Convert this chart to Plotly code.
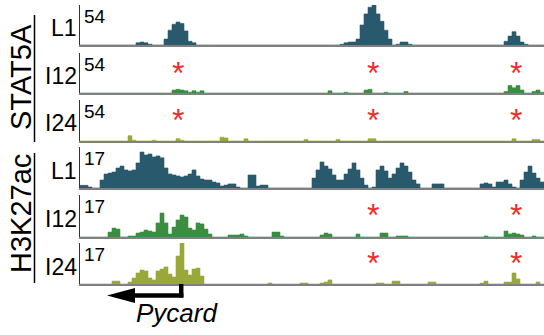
import plotly.graph_objects as go

# ---------------- data (genomic bins across the locus) ----------------
n_bins = 116
bin_start = list(range(n_bins + 1))

stat5a_L1 = [
    0, 0, 0, 0, 0, 0, 0, 0, 0, 0,
    0, 0, 0, 0, 3, 4, 3, 1, 0, 0,
    0, 8, 20, 28, 31, 29, 19, 5, 3, 0,
    0, 0, 0, 0, 0, 0, 0, 0, 0, 0,
    0, 0, 0, 0, 0, 0, 0, 0, 0, 0,
    0, 0, 0, 0, 0, 0, 0, 0, 0, 0,
    0, 0, 0, 0, 0, 1, 3, 4, 4, 8,
    27, 42, 51, 54, 42, 32, 20, 8, 0, 1,
    4, 4, 1, 0, 0, 0, 0, 0, 0, 0,
    0, 0, 0, 0, 0, 0, 0, 0, 0, 0,
    0, 0, 0, 0, 0, 0, 5, 12, 18, 12,
    4, 1, 0, 0, 0, 0,
]
stat5a_I12 = [
    0, 0, 0, 0, 0, 0, 0, 0, 0, 0,
    0, 0, 0, 0, 0, 0, 0, 0, 0, 0,
    0, 0, 0, 4, 5, 4, 3, 1, 3, 1,
    3, 0, 0, 0, 0, 0, 0, 0, 0, 0,
    0, 0, 0, 0, 0, 0, 0, 0, 0, 0,
    0, 0, 0, 0, 0, 0, 0, 0, 0, 0,
    0, 0, 3, 0, 0, 0, 1, 0, 0, 0,
    0, 4, 5, 0, 0, 0, 1, 0, 0, 0,
    0, 2, 0, 0, 0, 0, 0, 0, 0, 0,
    0, 0, 0, 0, 0, 0, 0, 0, 0, 0,
    0, 0, 0, 0, 0, 0, 2, 10, 7, 10,
    4, 0, 0, 2, 4, 1,
]
stat5a_I24 = [
    0, 0, 0, 0, 0, 0, 0, 0, 0, 0,
    0, 0, 7, 1, 0, 0, 0, 0, 1, 0,
    0, 0, 0, 0, 3, 1, 0, 0, 0, 0,
    0, 0, 0, 0, 0, 5, 4, 0, 0, 0,
    0, 3, 0, 0, 0, 0, 0, 0, 0, 0,
    0, 0, 0, 0, 0, 0, 2, 0, 0, 0,
    0, 0, 0, 0, 2, 0, 0, 0, 0, 0,
    0, 0, 3, 3, 0, 0, 0, 0, 0, 0,
    0, 0, 0, 0, 0, 0, 0, 0, 0, 0,
    0, 0, 0, 0, 0, 0, 0, 0, 0, 0,
    0, 0, 0, 0, 0, 0, 0, 0, 3, 0,
    0, 0, 0, 2, 2, 0,
]
h3k27ac_L1 = [
    1.1, 1.1, 0.4, 0, 0, 3.3, 5.8, 6.2, 6.6, 8.3,
    9.1, 7.5, 7.1, 7.5, 10.4, 14.9, 13.7, 14.1, 12.9, 13.3,
    12.5, 8.3, 5.8, 5.4, 5.0, 4.6, 5.0, 5.8, 7.5, 5.0,
    3.7, 3.3, 3.3, 2.5, 2.1, 0.8, 1.2, 1.7, 1.7, 0.4,
    0, 0, 5.4, 5.4, 0.8, 1.2, 1.2, 0, 0, 0,
    0, 0, 0, 0, 0, 0, 0, 0, 4.1, 7.5,
    10.8, 9.1, 7.9, 5.4, 3.3, 3.3, 5.8, 7.9, 10.4, 7.5,
    4.1, 1.2, 0, 0.4, 7.5, 9.1, 7.1, 4.1, 5.8, 8.3,
    10.4, 9.1, 6.6, 3.3, 1.7, 0, 0, 0, 1.7, 1.7,
    1.7, 0, 0, 0, 0, 0, 0, 0, 0, 0,
    1.7, 2.1, 1.7, 0.4, 2.5, 2.5, 3.3, 1.7, 0.4, 0,
    3.3, 6.6, 9.1, 6.2, 4.1, 2.5,
]
h3k27ac_I12 = [
    0, 0, 0, 0, 0, 0, 0, 2.0, 3.6, 3.2,
    0, 0, 0.4, 0.4, 1.6, 2.0, 2.8, 2.4, 2.0, 5.7,
    9.7, 5.7, 1.2, 4.0, 6.9, 8.9, 8.1, 3.6, 2.8, 5.7,
    5.3, 3.2, 1.2, 0, 0, 0, 0, 0.8, 0.8, 0.8,
    1.2, 0.4, 0, 0, 0, 0, 0, 0, 2.0, 2.0,
    0.4, 0, 0, 0, 0, 0, 0, 0, 0, 0,
    0.8, 1.6, 1.2, 0, 0, 0, 0, 0, 0, 1.2,
    0, 0, 0, 0, 0, 1.6, 1.6, 0, 0, 0.4,
    0.4, 0.4, 0, 0, 0, 0, 0, 0, 0, 0,
    0, 0, 0, 0, 0, 0, 0, 0, 0, 0,
    0, 0.4, 0, 0, 0, 0, 2.4, 1.2, 1.6, 1.2,
    0.8, 0, 0, 0.4, 0, 0,
]
h3k27ac_I24 = [
    0, 0, 0, 0, 0, 0, 0, 0, 1.2, 1.2,
    0, 0, 0.8, 2.5, 4.6, 5.8, 5.4, 2.5, 1.7, 5.4,
    6.2, 7.1, 4.1, 2.9, 11.6, 17, 5.8, 3.7, 6.2, 6.6,
    3.3, 0, 0, 0, 0, 0, 0, 0, 0, 0,
    0, 0, 0, 0, 0, 0, 0, 0.4, 0, 0,
    0, 0, 0, 0, 0, 0.4, 0.4, 0, 0, 0,
    0.4, 0.8, 1.7, 0, 0, 0, 0, 0, 0, 0,
    0, 0, 0, 0, 0.4, 0.4, 0, 0, 1.2, 1.2,
    0, 0, 0, 0, 0, 0, 0, 0.8, 0.8, 0,
    0, 0, 0, 0, 0, 0, 0, 0, 0, 0,
    0.4, 1.2, 0, 0, 0, 0, 0.8, 0.8, 4.6, 2.1,
    0, 0, 0, 0, 0.8, 0,
]

sample_labels = ["L1", "I12", "I24", "L1", "I12", "I24"]
track_max = [54, 54, 54, 17, 17, 17]
group_labels = ["STAT5A", "H3K27ac"]
# bins carrying a red asterisk, per track
asterisk_bins = [[], [24.5, 73.25, 109], [24.5, 73.25, 109], [], [73.25, 109], [73.25, 109]]
gene_name = "Pycard"
gene_tss = 25.3
gene_head_base = 13.75
gene_head_tip = 6.75

# ---------------- style / layout ----------------
W, H = 544, 335
FONT = "Liberation Sans, Arial, Helvetica, sans-serif"
col_L1, col_I12, col_I24 = "#28596c", "#3b8e40", "#9aa83a"
colors = [col_L1, col_I12, col_I24, col_L1, col_I12, col_I24]
track_px = [(5, 45), (53, 93), (100, 141), (147, 188), (195, 237), (243, 284)]
x_left = 80

def py(px):
    return 1 - px / H

series = [stat5a_L1, stat5a_I12, stat5a_I24, h3k27ac_L1, h3k27ac_I12, h3k27ac_I24]

fig = go.Figure()
layout = dict(
    width=W, height=H, margin=dict(l=0, r=0, t=0, b=0),
    paper_bgcolor="white", plot_bgcolor="white", showlegend=False,
    font=dict(family=FONT, color="black"),
)
annotations = []
shapes = []
for k, (vals, col, (top, bot)) in enumerate(zip(series, colors, track_px), start=1):
    sfx = "" if k == 1 else str(k)
    fig.add_trace(go.Scatter(
        x=bin_start, y=list(vals) + [vals[-1]], mode="lines",
        line=dict(shape="hv", width=0.6, color=col),
        fill="tozeroy", fillcolor=col, hoverinfo="skip",
        xaxis="x" + sfx, yaxis="y" + sfx,
    ))
    layout["xaxis" + sfx] = dict(
        domain=[x_left / W, 1], range=[0, n_bins], anchor="y" + sfx,
        showline=True, linecolor="#808080", linewidth=1.5,
        showticklabels=False, ticks="", showgrid=False, zeroline=False, fixedrange=True,
    )
    layout["yaxis" + sfx] = dict(
        domain=[py(bot), py(top)], range=[0, track_max[k - 1]], anchor="x" + sfx,
        showline=True, linecolor="#333333", linewidth=1,
        showticklabels=False, ticks="", showgrid=False, zeroline=False, fixedrange=True,
    )
    # scale label
    annotations.append(dict(
        text=str(track_max[k - 1]), xref="paper", yref="paper",
        x=(x_left + 2) / W, y=py(top - 1), xanchor="left", yanchor="top",
        showarrow=False, font=dict(size=19, family=FONT),
    ))
    # sample label
    annotations.append(dict(
        text=sample_labels[k - 1], xref="paper", yref="paper",
        x=(x_left - 1) / W, y=py((top + bot) / 2 + 3), xanchor="right", yanchor="middle",
        showarrow=False, font=dict(size=23, family=FONT),
    ))
    for b in asterisk_bins[k - 1]:
        annotations.append(dict(
            text="*", xref="x" + sfx, yref="y" + sfx + " domain",
            x=b, y=0.66, xanchor="center", yanchor="middle", yshift=-6,
            showarrow=False, font=dict(size=32, family=FONT, color="#ee2b2b"),
        ))

# group labels with separator lines
for lab, (ya, yb), (la, lb) in zip(group_labels, [(22, 132), (155, 273)], [(15, 142), (153, 283)]):
    annotations.append(dict(
        text=lab, xref="paper", yref="paper", x=21 / W, y=py((ya + yb) / 2),
        xanchor="center", yanchor="middle", textangle=-90, showarrow=False,
        font=dict(size=29, family=FONT),
    ))
    shapes.append(dict(type="line", xref="paper", yref="paper",
                       x0=34.5 / W, x1=34.5 / W, y0=py(la), y1=py(lb),
                       line=dict(color="black", width=1.5)))

# gene arrow (Pycard, minus strand)
shapes.append(dict(type="line", xref="x6", yref="paper", x0=gene_tss, x1=gene_tss,
                   y0=py(284), y1=py(297.5), line=dict(color="black", width=4.5)))
shapes.append(dict(type="line", xref="x6", yref="paper", x0=gene_tss + 0.55, x1=gene_head_base,
                   y0=py(295.5), y1=py(295.5), line=dict(color="black", width=4.5)))
shapes.append(dict(type="path", xref="x6", yref="paper",
                   path=f"M {gene_head_base},{py(288)} L {gene_head_tip},{py(295.5)} L {gene_head_base},{py(303)} Z",
                   fillcolor="black", line=dict(color="black", width=0)))
annotations.append(dict(
    text="<i>" + gene_name + "</i>", xref="x6", yref="paper", x=24.25, y=py(313),
    xanchor="center", yanchor="middle", showarrow=False, font=dict(size=26, family=FONT),
))

layout["annotations"] = annotations
layout["shapes"] = shapes
fig.update_layout(**layout)
fig.write_html("out.html")
